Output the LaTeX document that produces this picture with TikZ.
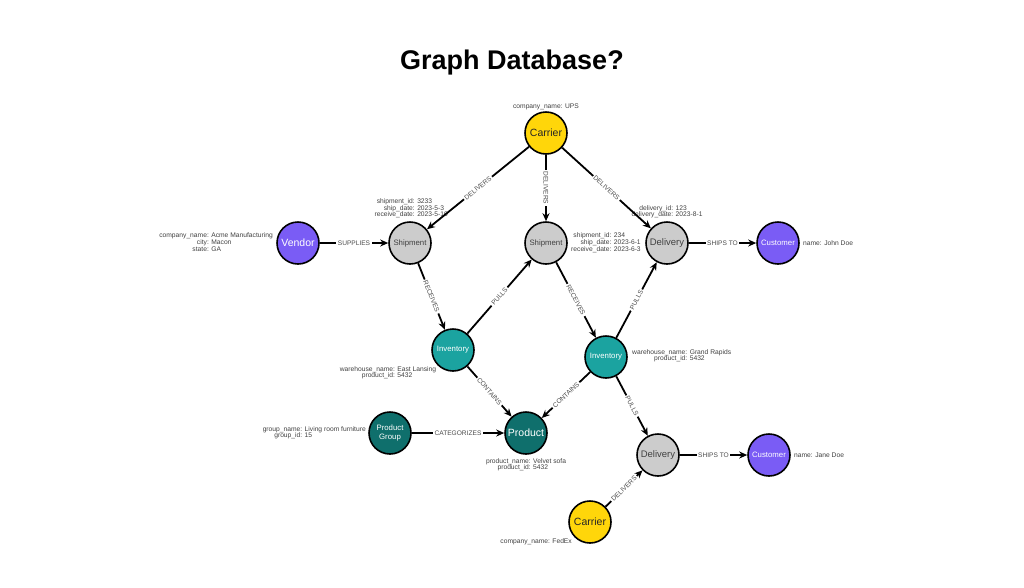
\documentclass[tikz,border=0pt]{standalone}
\usepackage{fontspec}
\setmainfont{Liberation Sans}
\usetikzlibrary{arrows.meta}
\newcommand\pp[1]{{\renewcommand\arraystretch{0.85}\begin{tabular}{@{}r@{: }l@{}}#1\end{tabular}}}
\definecolor{cyel}{HTML}{FFD60A}
\definecolor{cpur}{HTML}{7A5CF5}
\definecolor{cgra}{HTML}{CCCCCC}
\definecolor{ctea}{HTML}{1BA3A0}
\definecolor{cdte}{HTML}{0F6F6C}
\begin{document}
\begin{tikzpicture}[x=1pt,y=-1pt,
  nd/.style={circle,draw=black,line width=1.6pt,minimum size=42pt,inner sep=0pt,align=center},
  yel/.style={nd,fill=cyel,font=\fontsize{10.5}{11}\selectfont,text=black!85},
  pur/.style={nd,fill=cpur,text=white},
  gra/.style={nd,fill=cgra,text=black!75},
  tea/.style={nd,fill=ctea,text=white},
  dte/.style={nd,fill=cdte,text=white},
  pr/.style={font=\fontsize{6.7}{7.5}\selectfont,text=black!75,inner sep=0pt},
  ed/.style={line width=1.8pt,-{Stealth[length=8pt,width=7pt]}},
  el/.style={sloped,fill=white,font=\fontsize{6.6}{7}\selectfont,text=black!70,inner sep=1.5pt,midway}]
\useasboundingbox (0,0) rectangle (1024,587);
\node[font=\bfseries\fontsize{27}{32}\selectfont] (title) at (512,63) {Graph Database?};

\node[yel] (c1) at (546,133) {Carrier};
\node[pur,font=\fontsize{10.5}{11}\selectfont] (v) at (298,243) {Vendor};
\node[gra,font=\fontsize{7.8}{8.5}\selectfont] (s1) at (410,243) {Shipment};
\node[gra,font=\fontsize{7.8}{8.5}\selectfont] (s2) at (546,243) {Shipment};
\node[gra,font=\fontsize{9.5}{10}\selectfont] (d1) at (667,243) {Delivery};
\node[pur,font=\fontsize{7.8}{8.5}\selectfont] (cu1) at (778,243) {Customer};
\node[tea,font=\fontsize{7.8}{8.5}\selectfont] (i1) at (453,350) {Inventory};
\node[tea,font=\fontsize{7.8}{8.5}\selectfont] (i2) at (606,357) {Inventory};
\node[dte,font=\fontsize{7.8}{8.5}\selectfont] (pg) at (390,433) {Product\\[0pt]Group};
\node[dte,font=\fontsize{10.5}{11}\selectfont] (p) at (526,433) {Product};
\node[gra,font=\fontsize{9.5}{10}\selectfont] (d2) at (658,455) {Delivery};
\node[pur,font=\fontsize{7.8}{8.5}\selectfont] (cu2) at (769,455) {Customer};
\node[yel] (c2) at (590,522) {Carrier};

\node[pr,anchor=south] (pc1) at (546,110) {company\_name: UPS};
\node[pr,anchor=east] (pv) at (273,243) {\pp{company\_name & Acme Manufacturing\\ city & Macon\\ state & GA}};
\node[pr,anchor=south east] (ps1) at (448,219) {\pp{shipment\_id & 3233\\ ship\_date & 2023-5-3\\ receive\_date & 2023-5-10}};
\node[pr,anchor=west] (ps2) at (571,243) {\pp{shipment\_id & 234\\ ship\_date & 2023-6-1\\ receive\_date & 2023-6-3}};
\node[pr,anchor=south] (pd1) at (667,219) {\pp{delivery\_id & 123\\ delivery\_date & 2023-8-1}};
\node[pr,anchor=west] (pcu1) at (803,243) {name: John Doe};
\node[pr,anchor=north] (pi1) at (388,366) {\pp{warehouse\_name & East Lansing\\ product\_id & 5432}};
\node[pr,anchor=west] (pi2) at (632,356) {\pp{warehouse\_name & Grand Rapids\\ product\_id & 5432}};
\node[pr,anchor=east] (ppg) at (366,433) {\pp{group\_name & Living room furniture\\ group\_id & 15}};
\node[pr,anchor=north] (pp) at (526,458) {\pp{product\_name & Velvet sofa\\ product\_id & 5432}};
\node[pr,anchor=west] (pcu2) at (794,455) {name: Jane Doe};
\node[pr,anchor=north east] (pc2) at (572,538) {company\_name: FedEx};

\draw[ed] (c1) -- node[el]{DELIVERS} (s1);
\draw[ed] (c1) -- node[el]{DELIVERS} (s2);
\draw[ed] (c1) -- node[el]{DELIVERS} (d1);
\draw[ed] (v) -- node[el]{SUPPLIES} (s1);
\draw[ed] (d1) -- node[el]{SHIPS TO} (cu1);
\draw[ed] (s1) -- node[el]{RECEIVES} (i1);
\draw[ed] (i1) -- node[el]{PULLS} (s2);
\draw[ed] (s2) -- node[el]{RECEIVES} (i2);
\draw[ed] (i2) -- node[el]{PULLS} (d1);
\draw[ed] (i1) -- node[el]{CONTAINS} (p);
\draw[ed] (i2) -- node[el]{CONTAINS} (p);
\draw[ed] (pg) -- node[el]{CATEGORIZES} (p);
\draw[ed] (i2) -- node[el]{PULLS} (d2);
\draw[ed] (d2) -- node[el]{SHIPS TO} (cu2);
\draw[ed] (c2) -- node[el]{DELIVERS} (d2);
\end{tikzpicture}
\end{document}
